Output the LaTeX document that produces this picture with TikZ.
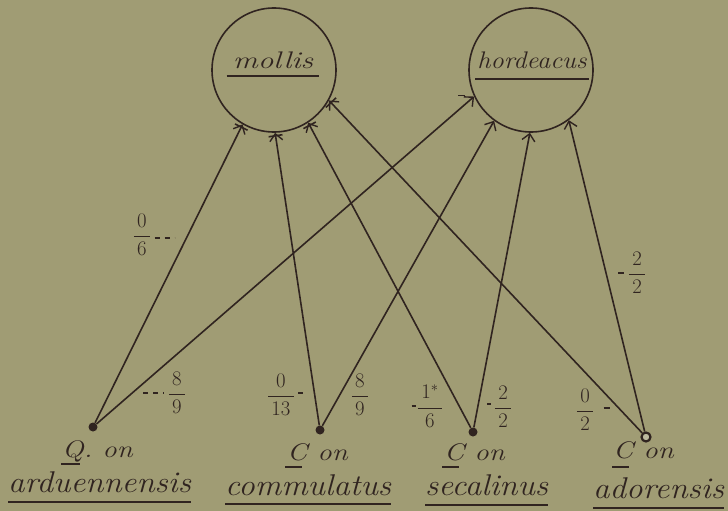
\documentclass[tikz,border=0pt]{standalone}
\usepackage{graphicx}
\usetikzlibrary{arrows.meta,calc}
\definecolor{paper}{RGB}{160,156,116}
\definecolor{ink}{RGB}{48,36,32}
\tikzset{
  ln/.style={draw=ink,line width=1.6pt},
  tobarb/.style={ln,-{Straight Barb[length=7pt,width=13pt,line width=1.4pt]}},
  ul/.style={draw=ink,line width=1.4pt},
  tick/.style={draw=ink,line width=1.2pt},
  ring/.style={circle,draw=ink,line width=1.6pt,minimum size=124pt,inner sep=0pt},
  topname/.style={text=ink,font=\fontsize{24}{26}\selectfont\itshape,inner sep=0pt,anchor=base},
  botword/.style={text=ink,font=\fontsize{30}{32}\selectfont\itshape,inner sep=0pt,anchor=base west},
  botsmall/.style={text=ink,font=\fontsize{24}{26}\selectfont\itshape,inner sep=0pt,anchor=base west},
  fracn/.style={text=ink,font=\fontsize{20}{24}\selectfont,inner sep=1pt},
  dotn/.style={circle,fill=ink,minimum size=9pt,inner sep=0pt},
  odot/.style={circle,draw=ink,line width=2.2pt,fill=paper!70!white,minimum size=9pt,inner sep=0pt}
}
\newcommand{\fr}[2]{$\displaystyle\frac{\,#1\,}{\,#2\,}$}
\begin{document}
\begin{tikzpicture}[x=1pt,y=-1pt]
\fill[paper] (0,0) rectangle (728,511);
\useasboundingbox (0,0) rectangle (728,511);

% circles
\node[ring] (mollis) at (274,70) {};
\node[ring] (hordeacus) at (531,70) {};
\node[topname] (tm) at (273,68) {\scalebox{1.3}[1]{mollis}};
\node[topname] (th) at (532,69) {\scalebox{1.1}[1]{hordeacus}};
\draw[ul] ($(tm.base west)+(-6,8)$) -- ($(tm.base east)+(6,8)$);
\draw[ul] ($(th.base west)+(-2,10)$) -- ($(th.base east)+(2,10)$);

% source dots
\node[dotn] (ar) at (93,427) {};
\node[dotn] (co) at (320,430) {};
\node[dotn] (se) at (473,432) {};
\node[odot] (ad) at (646,437) {};

% end points on circles
\coordinate (m1) at (mollis.-120);
\coordinate (m2) at (mollis.-89);
\coordinate (m3) at (mollis.-57);
\coordinate (m4) at (mollis.-29);
\coordinate (h1) at (hordeacus.-155);
\coordinate (h2) at (hordeacus.-126);
\coordinate (h3) at (hordeacus.-91);
\coordinate (h4) at (hordeacus.-53);

% connectors to hordeacus
\draw[tobarb] (ar) -- (h1);
\draw[tobarb] (co) -- (h2);
\draw[tobarb] (se) -- (h3);
\draw[tobarb] (ad) -- (h4);

% connectors to mollis, with star marks
\draw[tobarb] (ar) -- (m1);
\draw[tobarb] (co) -- (m2);
\draw[tobarb] (se) -- (m3);
\draw[tobarb] (ad) -- (m4);
\foreach \e/\s in {m1/ar,m2/co,m3/se,m4/ad}{
  \coordinate (b\e) at ($(\e)!3pt!(\s)$);
  \draw[ln] ($(b\e)!7pt!90:(\e)$) -- ($(b\e)!7pt!-90:(\e)$);
}

% small tick beside the arrow at hordeacus
\draw[tick] ($(h1)+(-16,-1)$) -- +(7,0);

% fraction labels
\node[fracn] (f1) at (142,235) {\fr{0}{6}};
\draw[tick,dash pattern=on 5pt off 5pt] ($(f1.east)+(2,3)$) -- +(20,0);
\node[fracn] (f2) at (177,393) {\fr{8}{9}};
\draw[tick,dash pattern=on 5pt off 5pt] ($(f2.west)+(-23,0)$) -- +(21,0);
\node[fracn] (f3) at (281,395) {\fr{0}{13}};
\draw[tick] ($(f3.east)+(2,-2)$) -- +(5,0);
\node[fracn] (f4) at (360,395) {\fr{8}{9}};
\node[fracn] (f5) at (430,406) {\fr{1^{*}}{6}};
\draw[tick] ($(f5.west)+(-4,0)$) -- +(4,0);
\node[fracn] (f6) at (503,407) {\fr{2}{2}};
\draw[tick] ($(f6.west)+(-5,-3)$) -- +(4,0);
\node[fracn] (f7) at (585,410) {\fr{0}{2}};
\draw[tick] ($(f7.east)+(8,-2)$) -- +(6,0);
\node[fracn] (f8) at (637,273) {\fr{2}{2}};
\draw[tick] ($(f8.west)+(-8,0)$) -- +(6,0);

% bottom labels
\node[botsmall] (q1) at (62,457) {\scalebox{1.2}[1]{Q. on}};
\draw[ul] ($(q1.base west)+(-1,7)$) -- +(19,0);
\node[botword] (w1) at (8,492) {\scalebox{1.1}[1]{arduennensis}};
\draw[ul] ($(w1.base west)+(0,10)$) -- ($(w1.base east)+(0,10)$);

\node[botsmall] (q2) at (287,460) {\scalebox{1.2}[1]{C on}};
\draw[ul] ($(q2.base west)+(-2,7)$) -- +(17,0);
\node[botword] (w2) at (225,495) {\scalebox{1.1}[1]{commulatus}};
\draw[ul] ($(w2.base west)+(0,9)$) -- ($(w2.base east)+(0,9)$);

\node[botsmall] (q3) at (444,460) {\scalebox{1.2}[1]{C on}};
\draw[ul] ($(q3.base west)+(-2,7)$) -- +(17,0);
\node[botword] (w3) at (425,495) {\scalebox{1.1}[1]{secalinus}};
\draw[ul] ($(w3.base west)+(0,10)$) -- ($(w3.base east)+(0,10)$);

\node[botsmall] (q4) at (613,458) {\scalebox{1.2}[1]{C on}};
\draw[ul] ($(q4.base west)+(-1,9)$) -- +(17,0);
\node[botword] (w4) at (593,498) {\scalebox{1.1}[1]{adorensis}};
\draw[ul] ($(w4.base west)+(0,10)$) -- ($(w4.base east)+(0,10)$);
\end{tikzpicture}
\end{document}
